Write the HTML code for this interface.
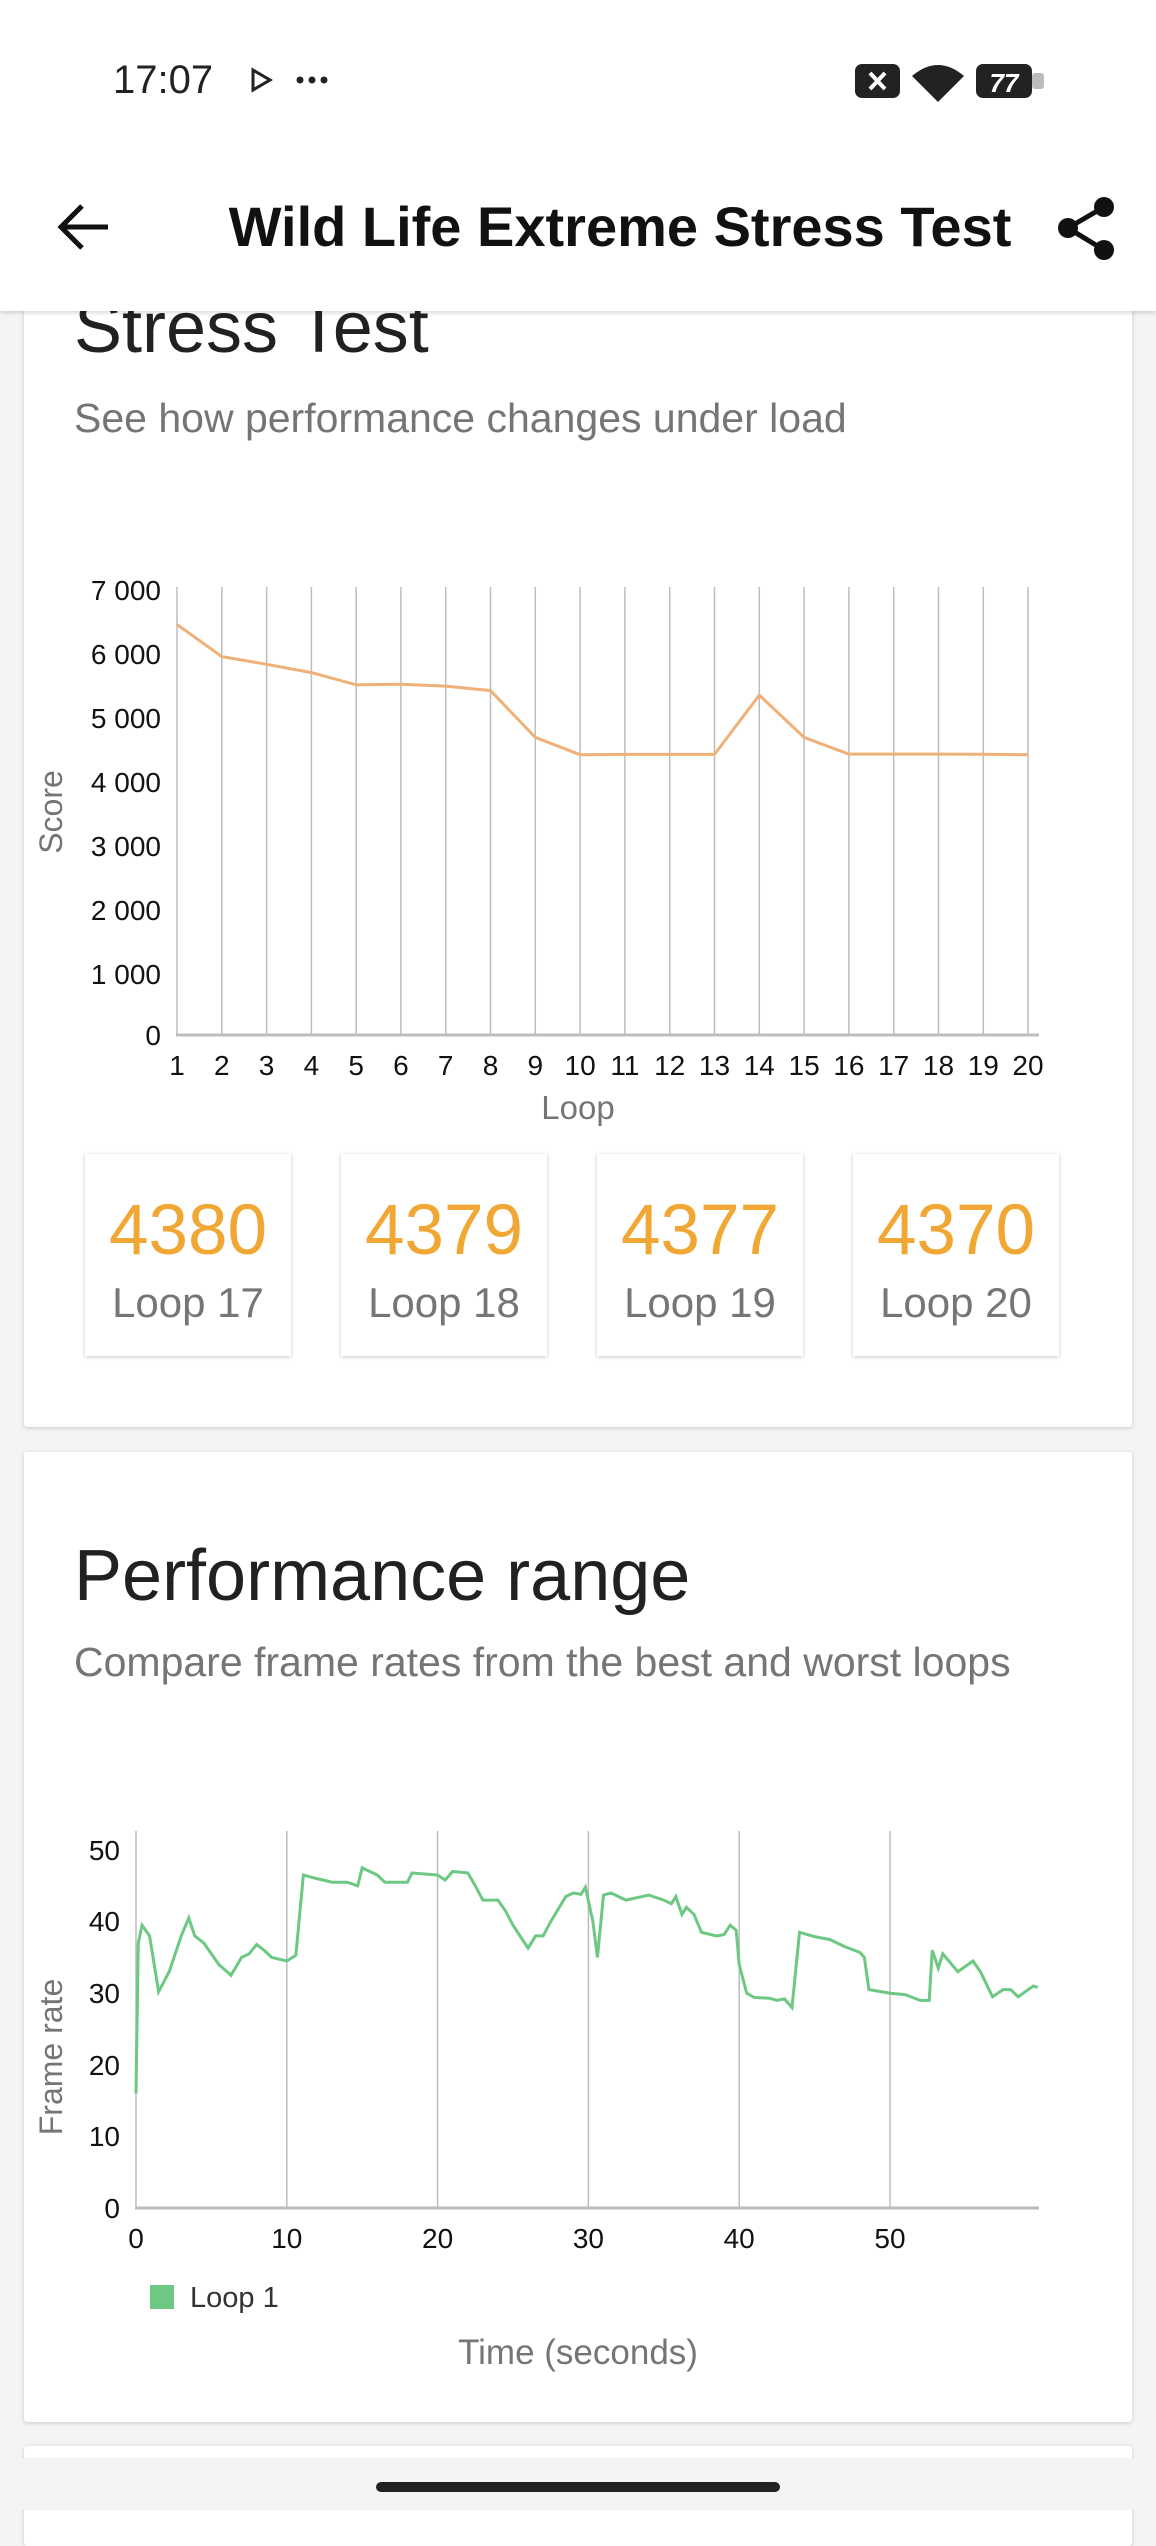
<!DOCTYPE html>
<html><head><meta charset="utf-8"><style>
html,body{margin:0;padding:0;width:1156px;height:2510px;overflow:hidden;background:#f4f4f4;font-family:"Liberation Sans",sans-serif;}
.card{position:absolute;left:24px;width:1108px;background:#fff;box-shadow:0 1px 4px rgba(0,0,0,.18);border-radius:3px;}
.box{position:absolute;width:206px;height:202px;background:#fff;box-shadow:0 1px 4px rgba(0,0,0,.22);text-align:center;}
.box .n{position:absolute;left:0;right:0;top:36px;font-size:71px;color:#f0a733;}
.box .l{position:absolute;left:0;right:0;top:125px;font-size:42px;color:#757575;}
.t{position:absolute;left:74px;color:#212121;font-size:72px;}
.s{position:absolute;left:74px;color:#757575;font-size:41px;}
</style></head><body>
<div class="card" style="top:250px;height:1177px;"></div>
<div class="card" style="top:1452px;height:970px;"></div>
<div class="card" style="top:2446px;height:100px;"></div>
<div class="t" style="top:287px;">Stress Test</div>
<div class="s" style="top:395px;">See how performance changes under load</div>
<div class="t" style="top:1535px;">Performance range</div>
<div class="s" style="top:1639px;">Compare frame rates from the best and worst loops</div>

<div class="box" style="left:85px;top:1154px"><div class="n">4380</div><div class="l">Loop 17</div></div>
<div class="box" style="left:341px;top:1154px"><div class="n">4379</div><div class="l">Loop 18</div></div>
<div class="box" style="left:597px;top:1154px"><div class="n">4377</div><div class="l">Loop 19</div></div>
<div class="box" style="left:853px;top:1154px"><div class="n">4370</div><div class="l">Loop 20</div></div>

<svg width="1156" height="2510" style="position:absolute;left:0;top:0" font-family="Liberation Sans, sans-serif">
<g stroke="#bdbdbd" stroke-width="1.5">
<line x1="177" y1="587" x2="177" y2="1035"/><line x1="221.8" y1="587" x2="221.8" y2="1035"/><line x1="266.6" y1="587" x2="266.6" y2="1035"/><line x1="311.4" y1="587" x2="311.4" y2="1035"/><line x1="356.2" y1="587" x2="356.2" y2="1035"/><line x1="400.9" y1="587" x2="400.9" y2="1035"/><line x1="445.7" y1="587" x2="445.7" y2="1035"/><line x1="490.5" y1="587" x2="490.5" y2="1035"/><line x1="535.3" y1="587" x2="535.3" y2="1035"/><line x1="580.1" y1="587" x2="580.1" y2="1035"/><line x1="624.9" y1="587" x2="624.9" y2="1035"/><line x1="669.7" y1="587" x2="669.7" y2="1035"/><line x1="714.5" y1="587" x2="714.5" y2="1035"/><line x1="759.3" y1="587" x2="759.3" y2="1035"/><line x1="804.1" y1="587" x2="804.1" y2="1035"/><line x1="848.9" y1="587" x2="848.9" y2="1035"/><line x1="893.7" y1="587" x2="893.7" y2="1035"/><line x1="938.5" y1="587" x2="938.5" y2="1035"/><line x1="983.3" y1="587" x2="983.3" y2="1035"/><line x1="1028" y1="587" x2="1028" y2="1035"/>
</g>
<line x1="176" y1="1035" x2="1039" y2="1035" stroke="#bdbdbd" stroke-width="3"/>
<polyline fill="none" stroke="#efb07a" stroke-width="3" points="177,624.5 221.8,656.6 266.6,664.3 311.4,672.6 356.2,684.8 400.9,684.2 445.7,686.1 490.5,690.6 535.3,737.4 580.1,754.7 624.9,754.4 669.7,754.4 714.5,754.4 759.3,695.1 804.1,737.4 848.9,754.1 893.7,754.1 938.5,754.1 983.3,754.2 1028,754.7"/>
<g font-size="28" fill="#111" text-anchor="end">
<text x="161" y="600">7 000</text><text x="161" y="664">6 000</text><text x="161" y="728">5 000</text><text x="161" y="792">4 000</text><text x="161" y="856">3 000</text><text x="161" y="920">2 000</text><text x="161" y="984">1 000</text><text x="161" y="1045">0</text>
</g>
<g font-size="28" fill="#111" text-anchor="middle">
<text x="177" y="1075">1</text><text x="221.8" y="1075">2</text><text x="266.6" y="1075">3</text><text x="311.4" y="1075">4</text><text x="356.2" y="1075">5</text><text x="400.9" y="1075">6</text><text x="445.7" y="1075">7</text><text x="490.5" y="1075">8</text><text x="535.3" y="1075">9</text><text x="580.1" y="1075">10</text><text x="624.9" y="1075">11</text><text x="669.7" y="1075">12</text><text x="714.5" y="1075">13</text><text x="759.3" y="1075">14</text><text x="804.1" y="1075">15</text><text x="848.9" y="1075">16</text><text x="893.7" y="1075">17</text><text x="938.5" y="1075">18</text><text x="983.3" y="1075">19</text><text x="1028" y="1075">20</text>
</g>
<text x="578" y="1119" font-size="33" fill="#757575" text-anchor="middle">Loop</text>
<text transform="translate(62,812) rotate(-90)" font-size="32" fill="#757575" text-anchor="middle">Score</text>

<g stroke="#bdbdbd" stroke-width="1.5">
<line x1="136" y1="1831" x2="136" y2="2208"/><line x1="286.8" y1="1831" x2="286.8" y2="2208"/><line x1="437.6" y1="1831" x2="437.6" y2="2208"/><line x1="588.4" y1="1831" x2="588.4" y2="2208"/><line x1="739.2" y1="1831" x2="739.2" y2="2208"/><line x1="890" y1="1831" x2="890" y2="2208"/>
</g>
<line x1="135" y1="2208" x2="1039" y2="2208" stroke="#bdbdbd" stroke-width="3"/>
<polyline fill="none" stroke="#6cc882" stroke-width="3" vector-effect="non-scaling-stroke" transform="translate(136,2208) scale(15.08,-7.16)" points="0,16 0.15,37 0.4,39.5 0.9,38 1.5,30.2 2.2,33 3,38 3.5,40.5 3.9,38 4.5,37 5.5,34 6.3,32.5 7,35 7.5,35.5 8,36.8 8.5,36 9,35 10,34.5 10.6,35.3 11.1,46.5 12,46 13,45.5 14,45.5 14.7,45 15,47.5 16,46.5 16.5,45.5 18,45.5 18.3,46.8 20,46.5 20.5,45.8 21,47 22,46.8 22.5,45 23,43 24,43 24.5,41.5 25,39.5 26,36.3 26.5,38 27,38 27.5,40 28.5,43.5 29,44 29.5,43.8 29.8,44.8 30.3,40 30.6,35 31,43.7 31.5,44 32.5,43 34,43.7 35,43 35.5,42.5 35.8,43.5 36.2,41 36.5,42 37,41 37.5,38.5 38.5,38 39,38.2 39.4,39.5 39.8,38.8 40,34 40.5,30 41,29.4 42,29.3 42.5,29 43,29.2 43.5,28 44,38.5 45,37.9 46,37.5 47,36.5 48,35.7 48.3,35 48.6,30.5 50,30 51,29.8 52,29 52.6,29 52.8,36 53.2,33.5 53.5,35.5 54.5,33 55.5,34.5 56,33 56.8,29.5 57.5,30.5 58,30.5 58.5,29.5 59.5,31 59.8,30.8"/>
<g font-size="28" fill="#111" text-anchor="end">
<text x="120" y="1860">50</text><text x="120" y="1931">40</text><text x="120" y="2003">30</text><text x="120" y="2075">20</text><text x="120" y="2146">10</text><text x="120" y="2218">0</text>
</g>
<g font-size="28" fill="#111" text-anchor="middle">
<text x="136" y="2248">0</text><text x="286.8" y="2248">10</text><text x="437.6" y="2248">20</text><text x="588.4" y="2248">30</text><text x="739.2" y="2248">40</text><text x="890" y="2248">50</text>
</g>
<text transform="translate(62,2057) rotate(-90)" font-size="32" fill="#757575" text-anchor="middle">Frame rate</text>
<rect x="150" y="2285" width="24" height="24" fill="#6cc882"/>
<text x="190" y="2307" font-size="29" fill="#333">Loop 1</text>
<text x="578" y="2364" font-size="35" fill="#757575" text-anchor="middle">Time (seconds)</text>
</svg>

<div style="position:absolute;left:0;top:0;width:1156px;height:311px;background:#fff;box-shadow:0 2px 4px rgba(0,0,0,.15);"></div>
<svg width="1156" height="311" style="position:absolute;left:0;top:0" font-family="Liberation Sans, sans-serif">
<text x="113" y="93" font-size="40" fill="#222">17:07</text>
<path d="M253 70 L270 80 L253 90 Z" fill="none" stroke="#222" stroke-width="3"/>
<circle cx="300" cy="80" r="3.5" fill="#222"/><circle cx="312" cy="80" r="3.5" fill="#222"/><circle cx="324" cy="80" r="3.5" fill="#222"/>
<rect x="855" y="64" width="45" height="34" rx="7" fill="#222"/>
<path d="M870 73 L885 89 M885 73 L870 89" stroke="#fff" stroke-width="4"/>
<path d="M912 76 Q938 54 964 76 L938 102 Z" fill="#222"/>
<rect x="976" y="64" width="56" height="34" rx="7" fill="#222"/>
<rect x="1032" y="73" width="12" height="16" rx="3" fill="#bbb"/>
<text x="1004" y="92" font-size="26" fill="#fff" text-anchor="middle" font-weight="bold" font-style="italic">77</text>
<path d="M108 227 H62 M82 206 L61 227 L82 248" fill="none" stroke="#111" stroke-width="5"/>
<text x="620" y="246" font-size="56" fill="#111" font-weight="bold" text-anchor="middle">Wild Life Extreme Stress Test</text>
<circle cx="1104" cy="207" r="10" fill="#111"/><circle cx="1104" cy="250" r="10" fill="#111"/><circle cx="1068" cy="228" r="10" fill="#111"/>
<path d="M1104 207 L1068 228 L1104 250" stroke="#111" stroke-width="5" fill="none"/>
</svg>
<div style="position:absolute;left:0;top:2458px;width:1156px;height:52px;background:#f4f4f4;"></div>
<div style="position:absolute;left:376px;top:2482px;width:404px;height:10px;border-radius:5px;background:#222;"></div>
</body></html>
